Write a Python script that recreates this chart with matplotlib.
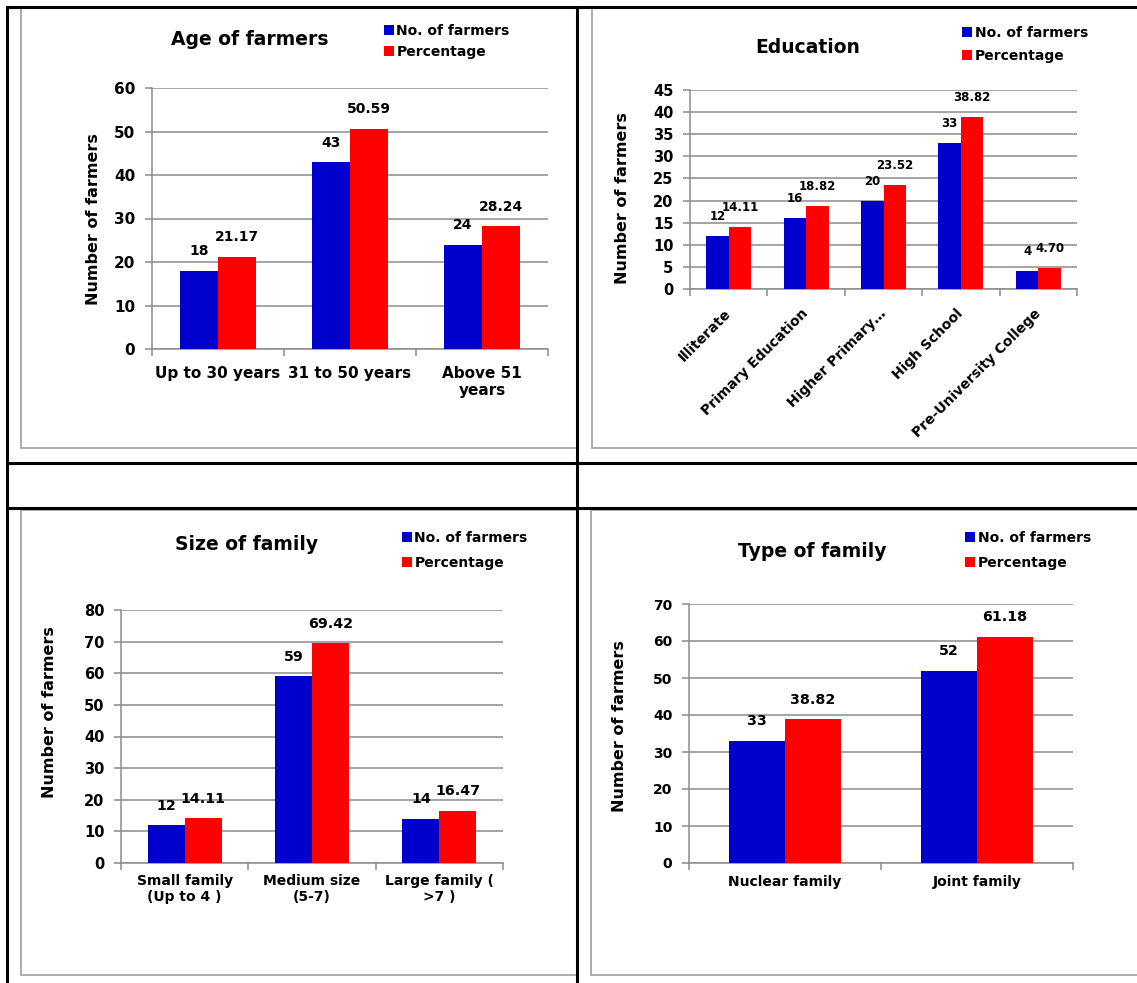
import numpy as np
import matplotlib
matplotlib.use("Agg")
import matplotlib.pyplot as plt
from matplotlib.patches import Rectangle
from matplotlib.lines import Line2D

W, H = 1137, 983
BLUE, RED = "#0000CC", "#FF0000"
GRID = "#8C8C8C"
FRAME = "#A6A6A6"

plt.rcParams["font.family"] = "DejaVu Sans"
plt.rcParams["font.weight"] = "bold"

# ---- data ----
age_cats = ["Up to 30 years", "31 to 50 years", "Above 51\nyears"]
age_n = [18, 43, 24]
age_pct = [21.17, 50.59, 28.24]

edu_cats = ["Illiterate", "Primary Education", "Higher Primary…",
            "High School", "Pre-University College"]
edu_n = [12, 16, 20, 33, 4]
edu_pct = [14.11, 18.82, 23.52, 38.82, 4.70]

size_cats = ["Small family\n(Up to 4 )", "Medium size\n(5-7)", "Large family (\n>7 )"]
size_n = [12, 59, 14]
size_pct = [14.11, 69.42, 16.47]

type_cats = ["Nuclear family", "Joint family"]
type_n = [33, 52]
type_pct = [38.82, 61.18]

fig = plt.figure(figsize=(W / 100, H / 100), dpi=100)

# background: chart frames and table rules, in pixel coords
bg = fig.add_axes([0, 0, 1, 1], zorder=-5)
bg.set_xlim(0, W); bg.set_ylim(H, 0); bg.axis("off")
for (l, t, r, b) in [(21, 8, 577, 448), (592, 8, 1140, 448),
                     (21, 510, 577, 975), (591, 510, 1140, 975)]:
    bg.add_patch(Rectangle((l, t), r - l, b - t, fill=False, ec=FRAME, lw=1.3))
fg = fig.add_axes([0, 0, 1, 1], zorder=5)
fg.set_xlim(0, W); fg.set_ylim(H, 0); fg.axis("off")
for xs, ys in [([7, W], [7, 7]), ([7, 7], [7, H]), ([577, 577], [7, H]),
               ([7, W], [463, 463]), ([7, W], [508, 508])]:
    fg.add_line(Line2D(xs, ys, color="black", lw=2.2))


def chart(box, cats, nvals, pvals, ymax, ystep, title, title_xy, ylab_xy,
          leg_xy, leg_sp, tick_fs, lab_fs, val_fs, xpad, rotate=False):
    l, t, r, b = box
    ax = fig.add_axes([l / W, 1 - b / H, (r - l) / W, (b - t) / H])
    x = np.arange(len(cats))
    w = 0.29
    b1 = ax.bar(x - w / 2, nvals, w, color=BLUE, label="No. of farmers", zorder=3)
    b2 = ax.bar(x + w / 2, pvals, w, color=RED, label="Percentage", zorder=3)
    for rect, v in zip(b1, nvals):
        ax.annotate(f"{v}", (rect.get_x() + rect.get_width() / 2, rect.get_height()),
                    xytext=(0, 14), textcoords="offset points", ha="center",
                    va="center", fontsize=val_fs, zorder=4)
    for rect, v in zip(b2, pvals):
        ax.annotate(f"{v:.2f}", (rect.get_x() + rect.get_width() / 2, rect.get_height()),
                    xytext=(0, 14), textcoords="offset points", ha="center",
                    va="center", fontsize=val_fs, zorder=4)
    ax.set_xlim(-0.5, len(cats) - 0.5)
    ax.set_ylim(0, ymax)
    ax.set_yticks(np.arange(0, ymax + 1, ystep))
    ax.yaxis.grid(True, color=GRID, lw=1.1)
    ax.set_axisbelow(True)
    for s in ("top", "right"):
        ax.spines[s].set_visible(False)
    for s in ("left", "bottom"):
        ax.spines[s].set_color(GRID)
        ax.spines[s].set_linewidth(1.1)
    ax.tick_params(axis="y", length=5, width=1.1, color=GRID, pad=7, labelsize=tick_fs)
    ax.set_xticks(np.arange(-0.5, len(cats)))
    ax.set_xticklabels([])
    ax.tick_params(axis="x", which="major", length=5, width=1.1, color=GRID)
    ax.set_xticks(x, minor=True)
    if rotate:
        ax.set_xticklabels(cats, minor=True, rotation=45, ha="right", va="center",
                           rotation_mode="anchor", fontsize=lab_fs)
    else:
        ax.set_xticklabels(cats, minor=True, fontsize=lab_fs)
    ax.tick_params(axis="x", which="minor", length=0, pad=xpad)

    fig.text(title_xy[0] / W, 1 - title_xy[1] / H, title, ha="center",
             va="baseline", fontsize=13.5)
    fig.text(ylab_xy[0] / W, 1 - ylab_xy[1] / H, "Number of farmers",
             rotation=90, ha="center", va="center", fontsize=11.5)
    ax.legend(loc="upper left", bbox_to_anchor=(leg_xy[0] / W, 1 - leg_xy[1] / H),
              bbox_transform=fig.transFigure, frameon=False, borderpad=0,
              borderaxespad=0, handlelength=0.7, handleheight=0.7,
              handletextpad=0.2, labelspacing=leg_sp, fontsize=10)
    return ax


chart((152, 88, 548, 349), age_cats, age_n, age_pct, 60, 10,
      "Age of farmers", (250, 45), (93, 219), (384, 24), 0.5,
      11, 11, 10, 12)
chart((690, 90, 1077, 289), edu_cats, edu_n, edu_pct, 45, 5,
      "Education", (808, 53), (622, 198), (962, 26), 0.65,
      10.5, 10, 8.5, 16, rotate=True)
chart((121, 610, 503, 863), size_cats, size_n, size_pct, 80, 10,
      "Size of family", (247, 550), (50, 712), (402, 531), 0.8,
      10.5, 10, 10.3, 8)
chart((689, 604, 1073, 863), type_cats, type_n, type_pct, 70, 10,
      "Type of family", (812, 557), (619, 726), (965, 531), 0.8,
      10, 10, 10.3, 8.5)

fig.savefig("out.png", dpi=100)
